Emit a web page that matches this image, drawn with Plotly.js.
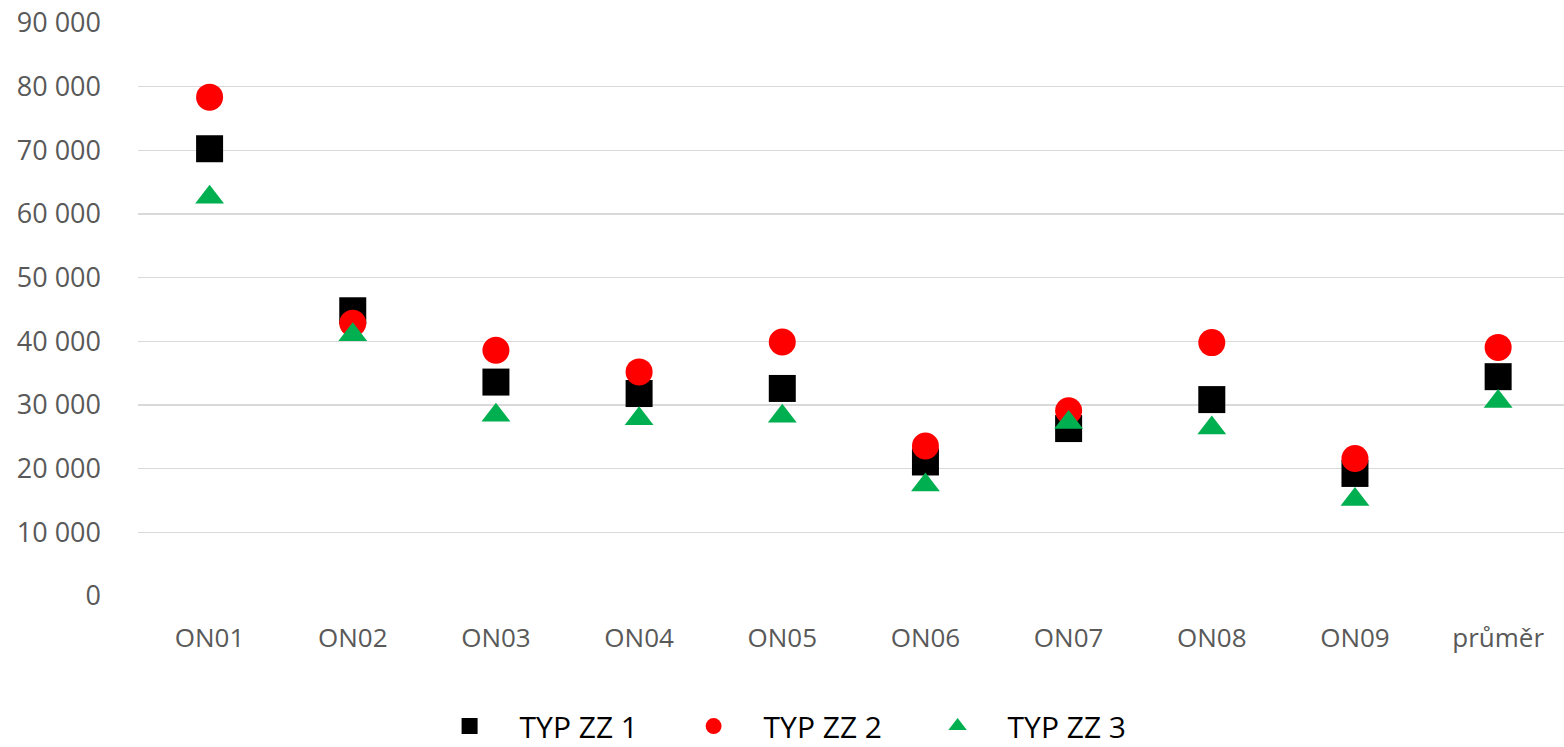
<!DOCTYPE html>
<html>
<head>
<meta charset="utf-8">
<script src="https://cdn.plot.ly/plotly-3.0.1.min.js"></script>
<style>html,body{margin:0;padding:0;background:#fff;}#chart{width:1564px;height:747px;}</style>
</head>
<body>
<div id="chart"></div>
<script>
const categories = ["ON01","ON02","ON03","ON04","ON05","ON06","ON07","ON08","ON09","průměr"];
const typ1 = [70250, 44800, 33600, 31800, 32600, 21050, 26300, 30850, 19250, 34450];
const typ2 = [78350, 42850, 38600, 35200, 39900, 23550, 29100, 39800, 21600, 39050];
const typ3 = [62650, 41050, 28400, 27850, 28250, 17450, 27250, 26400, 15150, 30550];
const seriesNames = ["TYP ZZ 1","TYP ZZ 2","TYP ZZ 3"];

const traces = [
  {x: categories, y: typ1, name: seriesNames[0], type: "scatter", mode: "markers",
   marker: {symbol: "square", size: 27, color: "#000000"}},
  {x: categories, y: typ2, name: seriesNames[1], type: "scatter", mode: "markers",
   marker: {symbol: "circle", size: 27, color: "#ff0000"}},
  {x: categories, y: typ3, name: seriesNames[2], type: "scatter", mode: "markers",
   marker: {symbol: "triangle-up", size: 25, color: "#00b050"}}
];

const layout = {
  width: 1564, height: 747,
  margin: {l: 138, r: 0, t: 22.5, b: 151, pad: 0},
  paper_bgcolor: "#ffffff", plot_bgcolor: "#ffffff",
  separators: ", ",
  font: {family: "Open Sans, sans-serif", color: "#595959", size: 26},
  showlegend: true,
  legend: {
    orientation: "h", xref: "container", yref: "container",
    x: 0.5023, xanchor: "center", y: 0.028, yanchor: "middle",
    font: {family: "Open Sans, sans-serif", size: 30, color: "#000000"},
    itemwidth: 90, entrywidth: 139, itemsizing: "trace", traceorder: "normal"
  },
  xaxis: {
    type: "category", range: [-0.5, 9.46],
    showgrid: false, zeroline: false, showline: false, ticks: "",
    tickfont: {family: "Open Sans, sans-serif", size: 26, color: "#595959"},
    ticklabelstandoff: 24, fixedrange: true
  },
  yaxis: {
    range: [0, 90000], dtick: 10000, tick0: 0, tickformat: ",d",
    showgrid: true, gridcolor: "#d9d9d9", gridwidth: 1.4,
    zeroline: false, showline: false, ticks: "",
    tickfont: {family: "Open Sans, sans-serif", size: 27, color: "#595959"},
    ticklabelstandoff: 36, fixedrange: true
  }
};

Plotly.newPlot("chart", traces, layout, {displayModeBar: false, staticPlot: true});
</script>
</body>
</html>
